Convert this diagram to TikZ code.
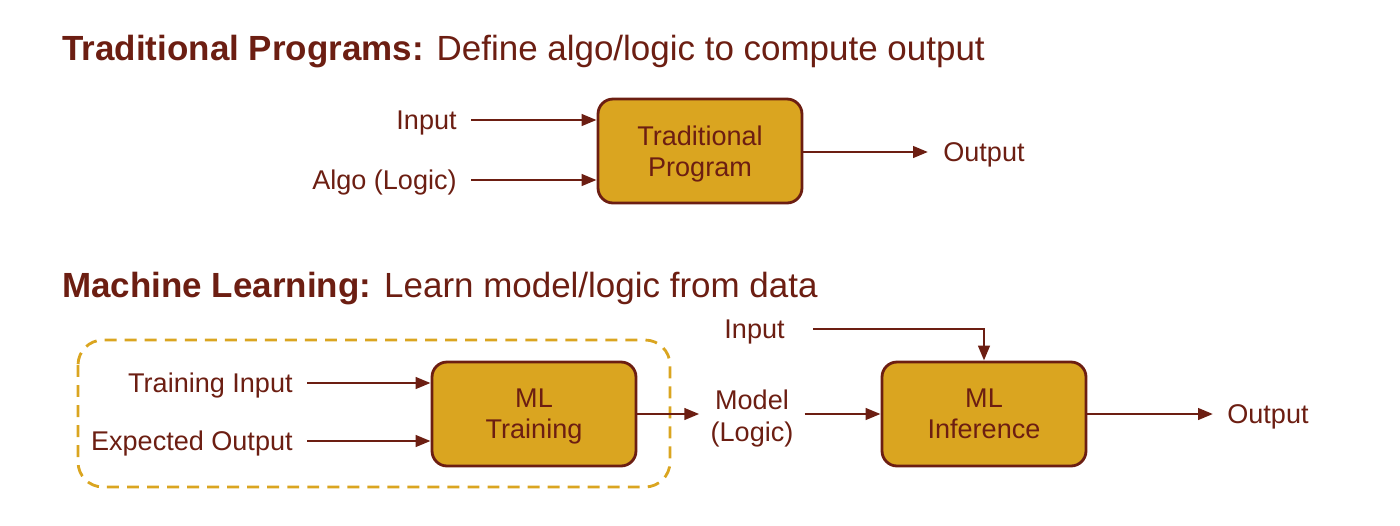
\documentclass[tikz,border=0pt]{standalone}
\usepackage{fontspec}
\setmainfont{Liberation Sans}
\usetikzlibrary{arrows.meta,positioning}
\definecolor{brn}{RGB}{108,30,18}
\definecolor{gold}{RGB}{218,165,32}
\tikzset{
  box/.style={draw=brn, fill=gold, line width=1.6pt, rounded corners=0.3cm,
    minimum width=4.08cm, minimum height=2.08cm, align=center, text=brn,
    text depth=0pt, font=\fontsize{15.4}{17.8}\selectfont},
  lbl/.style={text=brn, inner sep=0pt, text height=11pt, text depth=0pt,
    align=center, font=\fontsize{15.4}{18.2}\selectfont},
  ttl/.style={text=brn, inner sep=0pt, anchor=base west,
    font=\fontsize{19.9}{24}\selectfont},
  arr/.style={draw=brn, line width=1.6pt, -{Triangle[length=8.5pt,width=6.5pt]}},
}
\begin{document}
\begin{tikzpicture}[x=0.02cm,y=-0.02cm]
            \useasboundingbox (0,0) rectangle (1400,525);
            % Titel
            \node[ttl] (ttlA) at (62,60) {\textbf{Traditional Programs:} Define algo/logic to compute output};
            \node[ttl] (ttlB) at (62,297) {\textbf{Machine Learning:} Learn model/logic from data};
            % Traditional Program
            \node[box] (prog) at (700,151) {Traditional\\Program};
            \node[lbl, anchor=east] (inA) at (457,120) {Input};
            \node[lbl, anchor=east] (algo) at (457,180) {Algo (Logic)};
            \node[lbl, anchor=west] (outA) at (943,152) {Output};
            \draw[arr] ([xshift=0.28cm]inA.east) -- (inA.east -| prog.west);
            \draw[arr] ([xshift=0.28cm]algo.east) -- (algo.east -| prog.west);
            \draw[arr] (prog.east |- outA.west) -- ([xshift=-0.3cm]outA.west);
            % ML Training
            \draw[gold, line width=1.6pt, rounded corners=0.5cm, dash pattern=on 6.8pt off 4.6pt]
              (78,340) rectangle (670,487);
            \node[box] (train) at (534,414) {ML\\Training};
            \node[lbl, anchor=east] (trIn) at (293,383) {Training Input};
            \node[lbl, anchor=east] (expOut) at (293,441) {Expected Output};
            \draw[arr] ([xshift=0.28cm]trIn.east) -- (trIn.east -| train.west);
            \draw[arr] ([xshift=0.28cm]expOut.east) -- (expOut.east -| train.west);
            % Model
            \node[lbl, text height=29.2pt] (model) at (752,416) {Model\\(Logic)};
            \draw[arr] (train.east) -- ([xshift=-0.22cm]model.west |- train.east);
            % ML Inference
            \node[box] (infer) at (984,414) {ML\\Inference};
            \node[lbl, anchor=east] (inB) at (785,329) {Input};
            \node[lbl, anchor=west] (outB) at (1227,414) {Output};
            \coordinate (bend) at (infer.north |- inB.east);
            \draw[arr] ([xshift=0.56cm]inB.east) -- (bend) -- (infer.north);
            \draw[arr] ([xshift=0.22cm]model.east |- infer.west) -- (infer.west);
            \draw[arr] (infer.east) -- ([xshift=-0.28cm]outB.west);
\end{tikzpicture}
\end{document}
